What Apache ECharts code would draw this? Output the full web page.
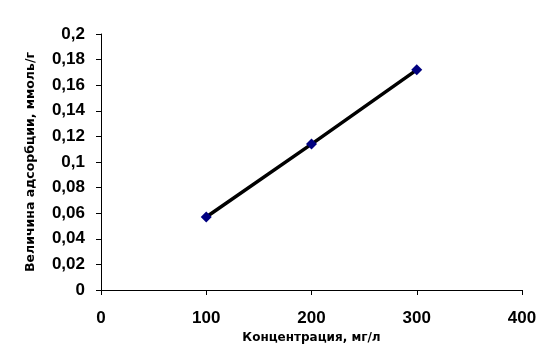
<!DOCTYPE html>
<html><head><meta charset="utf-8">
<script src="https://cdn.jsdelivr.net/npm/echarts@6/dist/echarts.min.js"></script>
<style>html,body{margin:0;padding:0;background:#fff}#c{width:557px;height:355px}</style>
</head><body><div id="c"></div>
<script>
const concentrations = [100, 200, 300];
const adsorption = [0.057, 0.114, 0.172];
const xTitle = 'Концентрация, мг/л';
const yTitle = 'Величина адсорбции, ммоль/г';

const chart = echarts.init(document.getElementById('c'), null, {renderer: 'canvas'});
const font = '"Liberation Sans", Arial, sans-serif';
const titleFont = '"DejaVu Sans", sans-serif';
chart.setOption({
  animation: false,
  backgroundColor: '#fff',
  grid: {left: 101, right: 35, top: 34, bottom: 65},
  xAxis: {
    type: 'value', min: 0, max: 400, interval: 100,
    name: xTitle, nameLocation: 'middle', nameGap: 39,
    nameTextStyle: {fontFamily: titleFont, fontWeight: 'bold', fontSize: 12, color: '#000'},
    axisLine: {show: true, onZero: false, lineStyle: {color: '#000', width: 1}},
    axisTick: {show: true, inside: false, length: 5, lineStyle: {color: '#000'}},
    axisLabel: {fontFamily: font, fontWeight: 'bold', fontSize: 17, color: '#000', margin: 20},
    splitLine: {show: false}
  },
  yAxis: {
    type: 'value', min: 0, max: 0.2, interval: 0.02,
    name: yTitle, nameLocation: 'middle', nameGap: 64,
    nameTextStyle: {fontFamily: titleFont, fontWeight: 'bold', fontSize: 12.5, color: '#000'},
    axisLine: {show: true, lineStyle: {color: '#000', width: 1}},
    axisTick: {show: true, inside: false, length: 5, lineStyle: {color: '#000'}},
    axisLabel: {fontFamily: font, fontWeight: 'bold', fontSize: 17, color: '#000', margin: 16,
      formatter: v => String(Math.round(v * 100) / 100).replace('.', ',')},
    splitLine: {show: false}
  },
  series: [{
    type: 'line',
    data: concentrations.map((x, i) => [x, adsorption[i]]),
    symbol: 'diamond', symbolSize: 11,
    lineStyle: {color: '#000', width: 3.5},
    itemStyle: {color: '#000080', borderWidth: 0},
    emphasis: {disabled: true}
  }]
});
</script></body></html>
